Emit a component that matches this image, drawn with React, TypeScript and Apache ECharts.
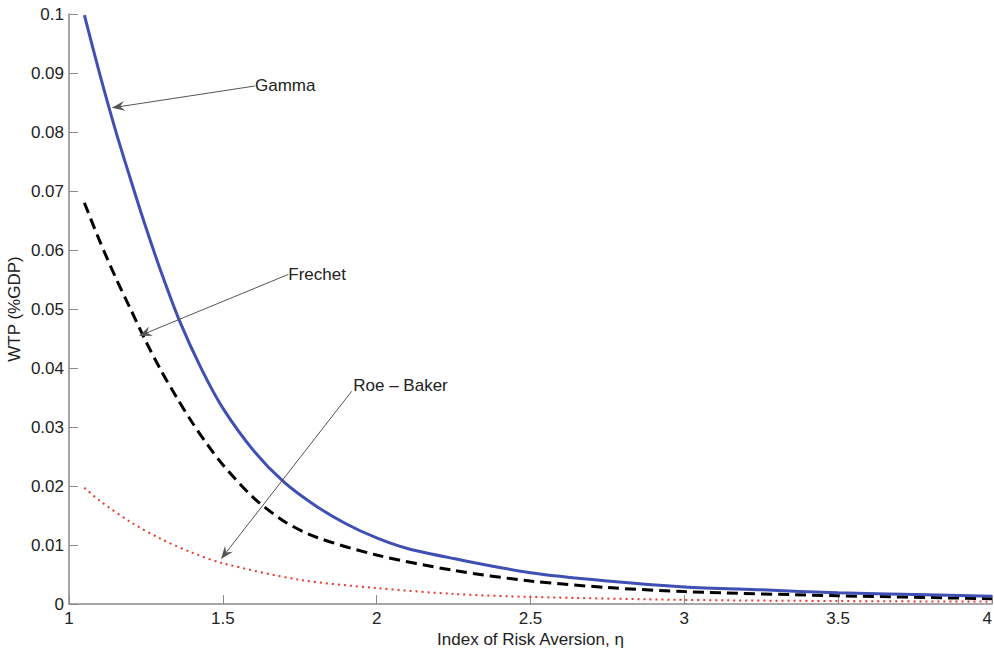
import React, { useEffect, useRef } from "react";
import * as echarts from "echarts";

const xTicks = { min: 1, max: 4, interval: 0.5 };
const yTicks = { min: 0, max: 0.1, interval: 0.01 };

const gammaX = [1.05, 1.1, 1.15, 1.2, 1.25, 1.3, 1.36, 1.43, 1.5, 1.6, 1.7, 1.8, 1.9, 2.0, 2.1, 2.25, 2.5, 2.75, 3.0, 3.25, 3.5, 3.75, 4.0];
const gammaY = [0.0998, 0.0898, 0.0805, 0.0720, 0.0638, 0.0562, 0.0479, 0.0399, 0.0332, 0.0260, 0.0206, 0.0167, 0.0136, 0.0112, 0.0094, 0.0077, 0.0053, 0.0039, 0.0029, 0.0024, 0.0019, 0.0016, 0.0013];

const frechetX = [1.05, 1.1, 1.15, 1.2, 1.25, 1.3, 1.35, 1.4, 1.45, 1.5, 1.6, 1.7, 1.8, 2.0, 2.25, 2.5, 2.75, 3.0, 3.5, 4.0];
const frechetY = [0.0680, 0.0615, 0.0555, 0.0500, 0.0445, 0.0395, 0.0350, 0.0308, 0.0270, 0.0236, 0.0180, 0.0140, 0.0114, 0.0083, 0.0057, 0.0039, 0.0028, 0.0021, 0.0014, 0.0009];

const roeX = [1.05, 1.1, 1.2, 1.3, 1.4, 1.5, 1.75, 2.0, 2.25, 2.5, 3.0, 3.5, 4.0];
const roeY = [0.0197, 0.0175, 0.0139, 0.0110, 0.0087, 0.0069, 0.0041, 0.0027, 0.0017, 0.0012, 0.0007, 0.0005, 0.0004];

const annotationLabels = ["Gamma", "Frechet", "Roe – Baker"];
const annotationTextAt = [[1.6045, 0.0879], [1.7127, 0.0559], [1.924, 0.0371]];
const annotationFrom = [[1.6045, 0.0878], [1.7127, 0.05586], [1.9187, 0.03605]];
const annotationTo = [[1.16, 0.08426], [1.247, 0.04584], [1.507, 0.00849]];

const FONT = "'Liberation Sans', Arial, Helvetica, sans-serif";
const TEXT = "#222";
const AXIS = "#8a8a8a";

const zip = (xs: number[], ys: number[]) => xs.map((x, i) => [x, ys[i]]);

export default function App() {
  const ref = useRef<HTMLDivElement>(null);
  useEffect(() => {
    if (!ref.current) return;
    const chart = echarts.init(ref.current, null, { renderer: "svg" });

    const arrowLines = annotationFrom.map((f, i) => [
      { coord: f },
      { coord: annotationTo[i] },
    ]);
    const labelPoints = annotationTextAt.map((p, i) => ({
      coord: p,
      value: annotationLabels[i],
    }));

    chart.setOption({
      animation: false,
      backgroundColor: "#fff",
      grid: { left: 69, right: 2, top: 14, bottom: 46, containLabel: false, outerBoundsMode: "none" },
      xAxis: {
        type: "value",
        min: xTicks.min,
        max: xTicks.max,
        interval: xTicks.interval,
        name: "Index of Risk Aversion, η",
        nameLocation: "middle",
        nameGap: 27,
        nameMoveOverlap: false,
        nameTextStyle: { color: TEXT, fontSize: 17, fontFamily: FONT, lineHeight: 17 },
        axisLine: { show: true, lineStyle: { color: AXIS, width: 1.5 } },
        axisTick: { show: true, inside: true, length: 9, lineStyle: { color: AXIS, width: 1 } },
        axisLabel: { color: TEXT, fontSize: 17, fontFamily: FONT, margin: 6, lineHeight: 17, alignMaxLabel: "right",
          formatter: (v: number) => String(parseFloat(v.toFixed(2))) },
        splitLine: { show: false },
      },
      yAxis: {
        type: "value",
        min: yTicks.min,
        max: yTicks.max,
        interval: yTicks.interval,
        name: "WTP (%GDP)",
        nameLocation: "middle",
        nameGap: 46,
        nameMoveOverlap: false,
        nameRotate: 90,
        nameTextStyle: { color: TEXT, fontSize: 17, fontFamily: FONT, lineHeight: 17 },
        axisLine: { show: true, lineStyle: { color: AXIS, width: 1.5 } },
        axisTick: { show: true, inside: true, length: 9, lineStyle: { color: AXIS, width: 1 } },
        axisLabel: { color: TEXT, fontSize: 17, fontFamily: FONT, margin: 5,
          formatter: (v: number) => String(parseFloat(v.toFixed(3))) },
        splitLine: { show: false },
      },
      series: [
        {
          name: "Gamma",
          type: "line",
          data: zip(gammaX, gammaY),
          showSymbol: false,
          smooth: 0.3,
          lineStyle: { color: "#3f4fb3", width: 3 },
          z: 3,
          markLine: {
            silent: true,
            symbol: ["none", "path://M5,0 L10,14 L5,9 L0,14 Z"],
            symbolSize: [10, 13],
            label: { show: false },
            lineStyle: { color: "#555", width: 1, type: "solid" },
            itemStyle: { color: "#111" },
            emphasis: { disabled: true },
            data: arrowLines,
          },
          markPoint: {
            silent: true,
            symbol: "circle",
            symbolSize: 0,
            label: {
              show: true,
              position: "right",
              distance: 0,
              color: TEXT,
              fontSize: 17,
              fontFamily: FONT,
              formatter: (p: any) => p.value,
            },
            data: labelPoints,
          },
        },
        {
          name: "Frechet",
          type: "line",
          data: zip(frechetX, frechetY),
          showSymbol: false,
          smooth: 0.3,
          lineStyle: { color: "#000", width: 3, type: [11, 6] },
          z: 2,
        },
        {
          name: "Roe – Baker",
          type: "line",
          data: zip(roeX, roeY),
          showSymbol: false,
          smooth: 0.3,
          lineStyle: { color: "#e8352e", width: 2, type: [2, 4] },
          z: 1,
        },
      ],
    });
    return () => chart.dispose();
  }, []);
  return (
    <div
      ref={ref}
      style={{ position: "fixed", left: 0, top: 0, width: 994, height: 650, background: "#fff" }}
    />
  );
}
